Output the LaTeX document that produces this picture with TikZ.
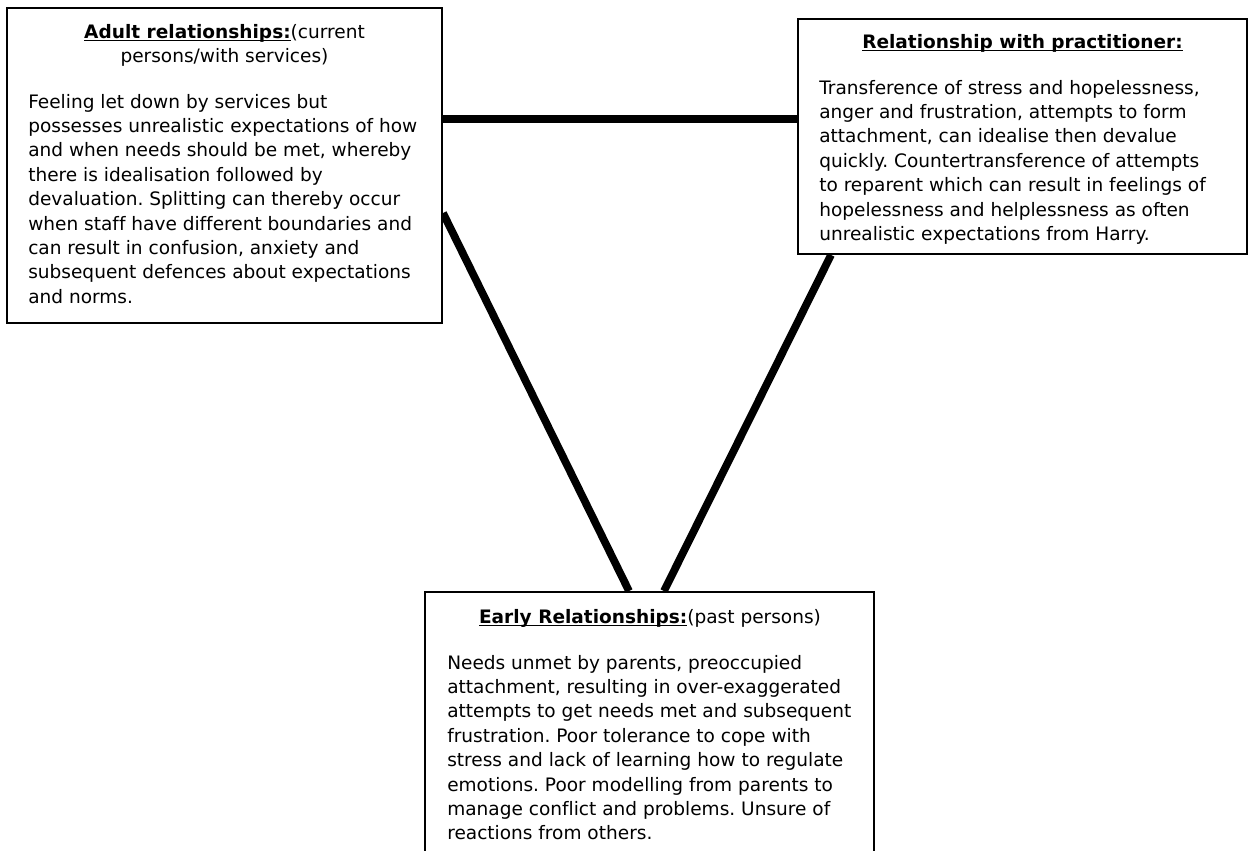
\documentclass[tikz,border=0pt]{standalone}
\usepackage{fontspec}
\setmainfont{DejaVu Sans}[Ligatures=NoCommon]
\frenchspacing
\newcommand\ulbf[1]{\leavevmode\setbox0=\hbox{\bfseries #1}\rlap{\rule[-2.4pt]{\wd0}{1.2pt}}\box0}
\pgfdeclarelayer{bg}
\pgfsetlayers{bg,main}
\tikzset{
  box/.style={draw=black, line width=1.5pt, fill=white, inner sep=0pt},
  conn/.style={draw=black, line width=5.8pt},
  txt/.style={inner sep=0pt, font=\fontsize{13.9pt}{18.3pt}\selectfont\frenchspacing},
}
\begin{document}
\begin{tikzpicture}[x=0.75pt,y=-0.75pt]
\useasboundingbox (0,0) rectangle (1256,850);
\clip (0,0) rectangle (1256,850);
% boxes
\node[box, minimum width=326.25pt, minimum height=236.25pt] (A) at (224.5,165.5) {};
\node[box, minimum width=336.75pt, minimum height=176.25pt] (R) at (1022.5,136.5) {};
\node[box, minimum width=336.75pt, minimum height=208.5pt] (B) at (649.5,731) {};
% connectors
\begin{pgfonlayer}{bg}
\draw[conn] (A.east |- 0,119) -- (R.west |- 0,119);
\draw[conn] (A.east |- 0,213) -- (B.north -| 629,0);
\draw[conn] (R.south -| 831,0) -- (B.north -| 664,0);
\end{pgfonlayer}
% left box text
\node[txt, anchor=base] (At) at (224.5,38) {\parbox[t]{300pt}{\centering\ulbf{Adult relationships:}(current\\persons/with services)}};
\node[txt, anchor=base west] (Ab) at (28,108) {\parbox[t]{320pt}{\raggedright
Feeling let down by services but\\
possesses unrealistic expectations of how\\
and when needs should be met, whereby\\
there is idealisation followed by\\
devaluation. Splitting can thereby occur\\
when staff have different boundaries and\\
can result in confusion, anxiety and\\
subsequent defences about expectations\\
and norms.}};
% right box text
\node[txt, anchor=base] (Rt) at (1022.5,48) {\ulbf{Relationship with practitioner:}};
\node[txt, anchor=base west] (Rb) at (819,94) {\parbox[t]{330pt}{\raggedright
Transference of stress and hopelessness,\\
anger and frustration, attempts to form\\
attachment, can idealise then devalue\\
quickly. Countertransference of attempts\\
to reparent which can result in feelings of\\
hopelessness and helplessness as often\\
unrealistic expectations from Harry.}};
% bottom box text
\node[txt, anchor=base] (Bt) at (650,623) {\ulbf{Early Relationships:}(past persons)};
\node[txt, anchor=base west] (Bb) at (447,669) {\parbox[t]{330pt}{\raggedright
Needs unmet by parents, preoccupied\\
attachment, resulting in over-exaggerated\\
attempts to get needs met and subsequent\\
frustration. Poor tolerance to cope with\\
stress and lack of learning how to regulate\\
emotions. Poor modelling from parents to\\
manage conflict and problems. Unsure of\\
reactions from others.}};
\end{tikzpicture}
\end{document}
